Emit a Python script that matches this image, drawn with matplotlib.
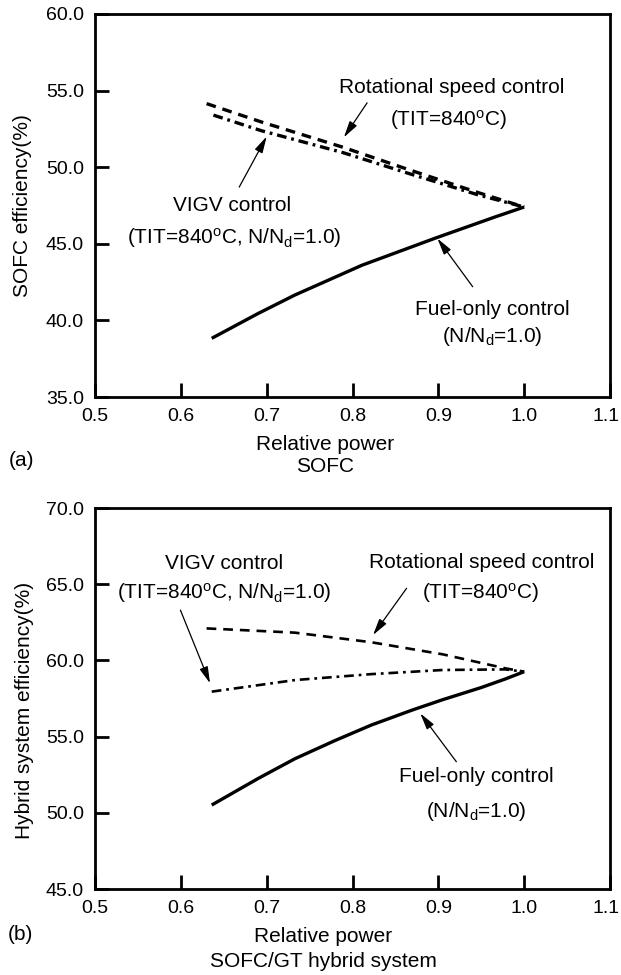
import matplotlib
matplotlib.use("Agg")
import matplotlib.pyplot as plt
import matplotlib.transforms as mtransforms

plt.rcParams['font.family'] = ['Liberation Sans', 'DejaVu Sans']
plt.rcParams['mathtext.fontset'] = 'custom'
plt.rcParams['mathtext.rm'] = 'Liberation Sans'
plt.rcParams['mathtext.it'] = 'Liberation Sans'
plt.rcParams['lines.scale_dashes'] = False

# ---------------- data ----------------
# (a) SOFC efficiency
a_fuel_x = [0.636, 0.690, 0.733, 0.811, 0.896, 0.966, 1.0]
a_fuel_y = [38.83, 40.45, 41.66, 43.60, 45.36, 46.75, 47.40]
a_rot_x = [0.630, 0.694, 0.789, 0.865, 0.946, 1.0]
a_rot_y = [54.15, 52.95, 51.30, 49.85, 48.35, 47.40]
a_vigv_x = [0.638, 0.694, 0.789, 0.865, 0.946, 1.0]
a_vigv_y = [53.40, 52.38, 50.95, 49.60, 48.20, 47.40]

# (b) Hybrid system efficiency
b_fuel_x = [0.636, 0.690, 0.733, 0.780, 0.822, 0.870, 0.905, 0.950, 0.978, 1.0]
b_fuel_y = [50.51, 52.25, 53.55, 54.75, 55.76, 56.75, 57.42, 58.22, 58.78, 59.26]
b_rot_x = [0.630, 0.733, 0.822, 0.905, 0.978, 1.0]
b_rot_y = [62.10, 61.82, 61.19, 60.40, 59.48, 59.26]
b_vigv_x = [0.636, 0.733, 0.822, 0.905, 0.978, 1.0]
b_vigv_y = [57.95, 58.71, 59.10, 59.37, 59.41, 59.26]

x_ticks = [0.5, 0.6, 0.7, 0.8, 0.9, 1.0, 1.1]
a_yticks = [35.0, 40.0, 45.0, 50.0, 55.0, 60.0]
b_yticks = [45.0, 50.0, 55.0, 60.0, 65.0, 70.0]

W, H = 621, 975
fig = plt.figure(figsize=(W / 100, H / 100), dpi=100)

ax1 = fig.add_axes([95 / W, 1 - 397 / H, 515 / W, 383 / H])
ax2 = fig.add_axes([95 / W, 1 - 889 / H, 515 / W, 381 / H])

FS_T = 14
FS = 15

def style(ax, yticks):
    ax.set_xlim(0.5, 1.1)
    ax.set_ylim(yticks[0], yticks[-1])
    ax.set_xticks(x_ticks)
    ax.set_xticklabels([f"{v:.1f}" for v in x_ticks])
    ax.set_yticks(yticks)
    ax.set_yticklabels([f"{v:.1f}" for v in yticks])
    for s in ax.spines.values():
        s.set_linewidth(2.0)
    ax.tick_params(direction='in', length=10, width=2.0, labelsize=FS_T,
                   pad=8, top=False, right=False)
    # nudge the last x tick label slightly left so it stays inside the figure
    last = ax.get_xticklabels()[-1]
    last.set_transform(last.get_transform() +
                       mtransforms.ScaledTranslation(-4 / 100, 0, fig.dpi_scale_trans))

def arrow(ax, x0, y0, x1, y1):
    ax.annotate('', xy=(x1, y1), xytext=(x0, y0),
                arrowprops=dict(arrowstyle='-|>,head_length=10,head_width=2.6',
                                mutation_scale=1, lw=0.9, color='black',
                                shrinkA=0, shrinkB=0))

DASH = (0, (7.0, 5.0))
DASHDOT = (0, (7.0, 3.5, 2.0, 3.5))

# ---------------- (a) ----------------
style(ax1, a_yticks)
ax1.plot(a_fuel_x, a_fuel_y, color='black', lw=2.4, solid_capstyle='butt')
ax1.plot(a_rot_x, a_rot_y, color='black', lw=2.4, linestyle=DASH)
ax1.plot(a_vigv_x, a_vigv_y, color='black', lw=2.4, linestyle=DASHDOT)

ax1.text(0.916, 55.2, 'Rotational speed control', fontsize=FS, ha='center', va='center')
ax1.text(0.912, 53.3, r'(TIT=840$^{\mathrm{o}}$C)', fontsize=FS, ha='center', va='center_baseline')
arrow(ax1, 0.817, 54.2, 0.790, 51.95)

ax1.text(0.660, 47.47, 'VIGV control', fontsize=FS, ha='center', va='center')
ax1.text(0.662, 45.57, r'(TIT=840$^{\mathrm{o}}$C, N/N$_{\mathrm{d}}$=1.0)', fontsize=FS,
         ha='center', va='center_baseline')
arrow(ax1, 0.668, 48.7, 0.700, 52.0)

ax1.text(0.963, 40.74, 'Fuel-only control', fontsize=FS, ha='center', va='center')
ax1.text(0.963, 39.16, r'(N/N$_{\mathrm{d}}$=1.0)', fontsize=FS, ha='center', va='center_baseline')
arrow(ax1, 0.940, 42.2, 0.899, 45.34)

ax1.set_xlabel('Relative power\nSOFC', fontsize=FS, linespacing=1.2)
ax1.xaxis.set_label_coords((325 - 95) / 515, -(455 - 397) / 383)
ax1.xaxis.label.set_va('center')
ax1.set_ylabel('SOFC efficiency(%)', fontsize=FS)
ax1.yaxis.set_label_coords((22 - 95) / 515, 0.5)
ax1.yaxis.label.set_va('center')
fig.text(22 / W, 1 - 461 / H, '(a)', fontsize=FS, ha='center', va='center')

# ---------------- (b) ----------------
style(ax2, b_yticks)
ax2.plot(b_fuel_x, b_fuel_y, color='black', lw=2.4, solid_capstyle='butt')
ax2.plot(b_rot_x, b_rot_y, color='black', lw=1.9, linestyle=DASH)
ax2.plot(b_vigv_x, b_vigv_y, color='black', lw=1.9, linestyle=DASHDOT)

ax2.text(0.650, 66.37, 'VIGV control', fontsize=FS, ha='center', va='center')
ax2.text(0.650, 64.62, r'(TIT=840$^{\mathrm{o}}$C, N/N$_{\mathrm{d}}$=1.0)', fontsize=FS,
         ha='center', va='center_baseline')
arrow(ax2, 0.5995, 63.3, 0.634, 58.5)

ax2.text(0.951, 66.4, 'Rotational speed control', fontsize=FS, ha='center', va='center')
ax2.text(0.949, 64.6, r'(TIT=840$^{\mathrm{o}}$C)', fontsize=FS, ha='center', va='center_baseline')
arrow(ax2, 0.863, 64.73, 0.824, 61.67)

ax2.text(0.944, 52.37, 'Fuel-only control', fontsize=FS, ha='center', va='center')
ax2.text(0.944, 50.3, r'(N/N$_{\mathrm{d}}$=1.0)', fontsize=FS, ha='center', va='center_baseline')
arrow(ax2, 0.921, 53.35, 0.879, 56.52)

ax2.set_xlabel('Relative power\nSOFC/GT hybrid system', fontsize=FS, linespacing=1.4)
ax2.xaxis.set_label_coords((323 - 95) / 515, -(949 - 889) / 381)
ax2.xaxis.label.set_va('center')
ax2.set_ylabel('Hybrid system efficiency(%)', fontsize=FS)
ax2.yaxis.set_label_coords((24 - 95) / 515, (889 - 710) / 381)
ax2.yaxis.label.set_va('center')
fig.text(20 / W, 1 - 935 / H, '(b)', fontsize=FS, ha='center', va='center')

fig.savefig('out.png', dpi=100, facecolor='white')
